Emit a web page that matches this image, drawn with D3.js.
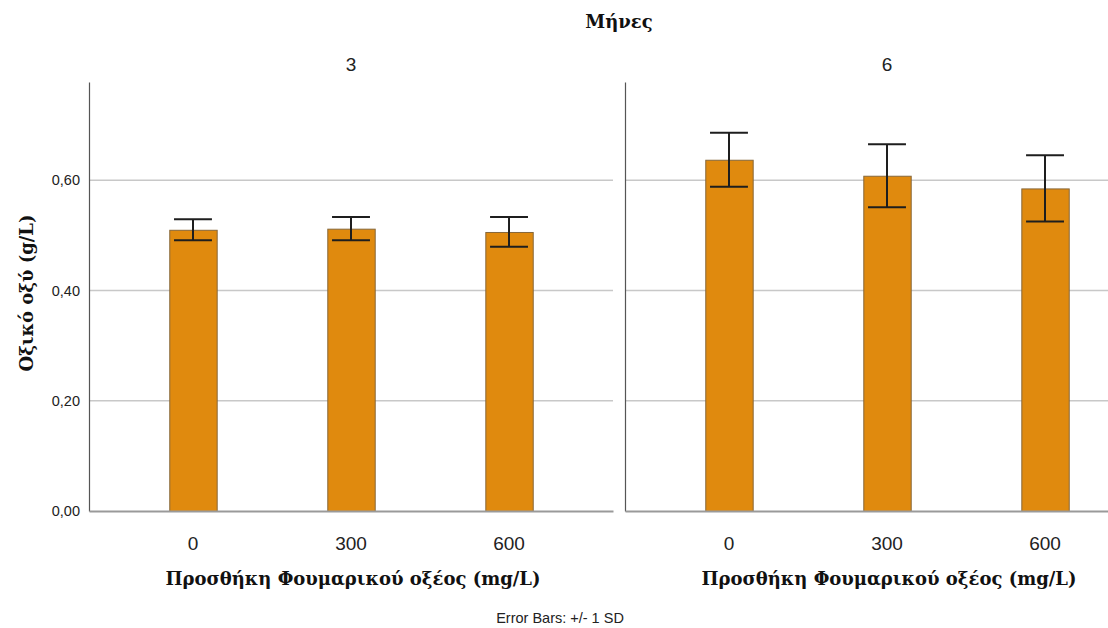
<!DOCTYPE html>
<html>
<head>
<meta charset="utf-8">
<script src="https://cdn.jsdelivr.net/npm/d3@7"></script>
<style>
  body { margin: 0; background: #fff; }
  svg { display: block; }
</style>
</head>
<body>
<div id="chart"></div>
<script>
'use strict';

// Data
const panels = ['3', '6'];
const categories = ['0', '300', '600'];
const means3 = [0.510, 0.512, 0.506];
const sd3 = [0.019, 0.021, 0.027];
const means6 = [0.637, 0.608, 0.585];
const sd6 = [0.049, 0.057, 0.060];
const yTicks = [0, 0.2, 0.4, 0.6];

const settings = {
    width: 1108,
    height: 628,
    elId: '#chart'
};

const options = {
    panelX: [89, 625],
    panelWidth: 524,
    top: 82,
    bottom: 511,
    barFill: '#e08a0e',
    barStroke: '#86673a',
    serif: '"DejaVu Serif", "Liberation Serif", serif',
    sans: '"Liberation Sans", Arial, sans-serif'
};

const series = [means3, means6];
const errors = [sd3, sd6];

const svg = d3.select(settings.elId)
    .append('svg')
    .attr('width', settings.width)
    .attr('height', settings.height);

const y = d3.scaleLinear()
    .domain([0, 0.778])
    .range([options.bottom, options.top]);

const x = d3.scaleBand()
    .domain(categories)
    .range([0, options.panelWidth])
    .paddingInner(0.7)
    .paddingOuter(0.508);

const commaFormat = d3.formatLocale({ decimal: ',', thousands: '.', grouping: [3], currency: ['', ''] })
    .format('.2f');

panels.forEach((p, pi) => {
    const g = svg.append('g')
        .attr('transform', `translate(${options.panelX[pi]},0)`);

    // gridlines
    g.selectAll('.grid')
        .data(yTicks.filter(t => t > 0))
        .enter()
        .append('line')
        .attr('class', 'grid')
        .attr('x1', 0)
        .attr('x2', options.panelWidth)
        .attr('y1', d => y(d))
        .attr('y2', d => y(d))
        .attr('stroke', '#c8c8c8')
        .attr('stroke-width', 1.5);

    // bars
    const vals = series[pi];
    const sds = errors[pi];
    g.selectAll('.bar')
        .data(categories)
        .enter()
        .append('rect')
        .attr('class', 'bar')
        .attr('x', d => x(d) + 0.5)
        .attr('y', (d, i) => y(vals[i]) + 0.5)
        .attr('width', x.bandwidth())
        .attr('height', (d, i) => y(0) - y(vals[i]))
        .attr('fill', options.barFill)
        .attr('stroke', options.barStroke)
        .attr('stroke-width', 1);

    // error bars
    const capHalf = x.bandwidth() * 0.4;
    const eg = g.selectAll('.err')
        .data(categories)
        .enter()
        .append('g')
        .attr('class', 'err')
        .attr('stroke', '#1e1e1e')
        .attr('stroke-width', 2);
    eg.append('line')
        .attr('x1', d => x(d) + x.bandwidth() / 2)
        .attr('x2', d => x(d) + x.bandwidth() / 2)
        .attr('y1', (d, i) => y(vals[i] + sds[i]))
        .attr('y2', (d, i) => y(vals[i] - sds[i]));
    eg.append('line')
        .attr('x1', d => x(d) + x.bandwidth() / 2 - capHalf)
        .attr('x2', d => x(d) + x.bandwidth() / 2 + capHalf)
        .attr('y1', (d, i) => y(vals[i] + sds[i]))
        .attr('y2', (d, i) => y(vals[i] + sds[i]));
    eg.append('line')
        .attr('x1', d => x(d) + x.bandwidth() / 2 - capHalf)
        .attr('x2', d => x(d) + x.bandwidth() / 2 + capHalf)
        .attr('y1', (d, i) => y(vals[i] - sds[i]))
        .attr('y2', (d, i) => y(vals[i] - sds[i]));

    // y axis line (and labels on the first panel only)
    const yAxis = d3.axisLeft(y)
        .tickValues(yTicks)
        .tickSize(0)
        .tickSizeOuter(0)
        .tickPadding(9)
        .tickFormat(pi === 0 ? commaFormat : () => '');
    const ya = g.append('g').call(yAxis);
    ya.select('.domain').attr('stroke', '#555').attr('stroke-width', 1.2);
    ya.selectAll('text')
        .attr('font-family', options.sans)
        .attr('font-size', 14.5)
        .attr('fill', '#222');

    // x axis
    const xAxis = d3.axisBottom(x)
        .tickSize(0)
        .tickSizeOuter(0)
        .tickPadding(26);
    const xa = g.append('g')
        .attr('transform', `translate(0,${options.bottom})`)
        .call(xAxis);
    xa.select('.domain').attr('stroke', '#9a9a9a').attr('stroke-width', 2);
    xa.selectAll('text')
        .attr('font-family', options.sans)
        .attr('font-size', 19)
        .attr('fill', '#222');

    // panel label
    g.append('text')
        .text(p)
        .attr('x', options.panelWidth / 2)
        .attr('y', 71)
        .attr('text-anchor', 'middle')
        .attr('font-family', options.sans)
        .attr('font-size', 19)
        .attr('fill', '#222');

    // x axis title
    g.append('text')
        .text('Προσθήκη Φουμαρικού οξέος (mg/L)')
        .attr('x', options.panelWidth / 2 + 2)
        .attr('y', 585)
        .attr('text-anchor', 'middle')
        .attr('font-family', options.serif)
        .attr('font-weight', 'bold')
        .attr('font-size', 18)
        .attr('fill', '#111');
});

// overall title
svg.append('text')
    .text('Μήνες')
    .attr('x', 619)
    .attr('y', 28)
    .attr('text-anchor', 'middle')
    .attr('font-family', options.serif)
    .attr('font-weight', 'bold')
    .attr('font-size', 18)
    .attr('fill', '#111');

// y axis title
svg.append('text')
    .text('Οξικό οξύ (g/L)')
    .attr('transform', 'translate(33,293) rotate(-90)')
    .attr('text-anchor', 'middle')
    .attr('font-family', options.serif)
    .attr('font-weight', 'bold')
    .attr('font-size', 18)
    .attr('fill', '#111');

// footnote
svg.append('text')
    .text('Error Bars: +/- 1 SD')
    .attr('x', 560)
    .attr('y', 623)
    .attr('text-anchor', 'middle')
    .attr('font-family', options.sans)
    .attr('font-size', 14.5)
    .attr('fill', '#222');
</script>
</body>
</html>
